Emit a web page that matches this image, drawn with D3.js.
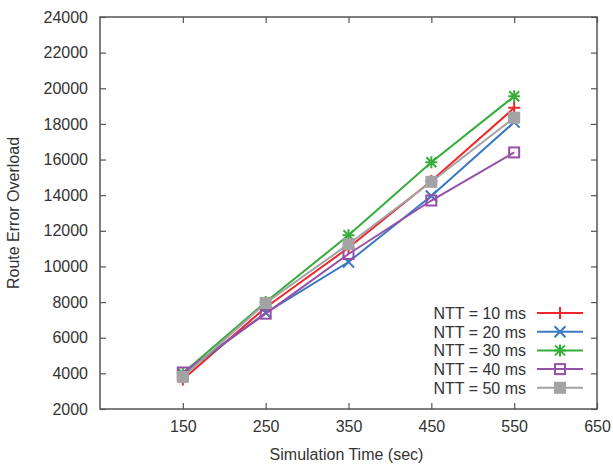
<!DOCTYPE html>
<html><head><meta charset="utf-8">
<script src="https://cdn.jsdelivr.net/npm/d3@7"></script>
<style>body{margin:0;background:#fff;} text{font-family:"Liberation Sans",Arial,sans-serif;}</style>
</head><body>
<svg id="c" width="613" height="467"></svg>
<script>
const times = [150, 250, 350, 450, 550];
const ntt10 = [3650, 7700, 11050, 14800, 18900];
const ntt20 = [3950, 7400, 10250, 13950, 18100];
const ntt30 = [4000, 8000, 11750, 15850, 19550];
const ntt40 = [4050, 7350, 10700, 13700, 16400];
const ntt50 = [3800, 7950, 11250, 14750, 18350];
const seriesNames = ["NTT = 10 ms", "NTT = 20 ms", "NTT = 30 ms", "NTT = 40 ms", "NTT = 50 ms"];
const xTicks = [150, 250, 350, 450, 550, 650];
const yTicks = [2000, 4000, 6000, 8000, 10000, 12000, 14000, 16000, 18000, 20000, 22000, 24000];

const series = [
  {name: seriesNames[0], values: ntt10, color: "#f0262a", marker: "plus"},
  {name: seriesNames[1], values: ntt20, color: "#3b78c3", marker: "cross"},
  {name: seriesNames[2], values: ntt30, color: "#36ad3a", marker: "star"},
  {name: seriesNames[3], values: ntt40, color: "#9550a8", marker: "osquare"},
  {name: seriesNames[4], values: ntt50, color: "#a3a3a5", marker: "fsquare"}
];

const FS = "16px";
const svg = d3.select("#c");
const L = 100, R = 597, T = 17, B = 409;
const x = d3.scaleLinear().domain([50, 650]).range([L, R]);
const y = d3.scaleLinear().domain([2000, 24000]).range([B, T]);
const axisColor = "#555";
const tickLen = 6;

// axes with inward ticks
const gB = svg.append("g").attr("transform", `translate(0,${B})`)
  .call(d3.axisBottom(x).tickValues(xTicks).tickSize(-tickLen).tickPadding(12).tickFormat(d3.format("d")));
const gT = svg.append("g").attr("transform", `translate(0,${T})`)
  .call(d3.axisTop(x).tickValues(xTicks).tickSize(-tickLen).tickFormat(""));
const gL = svg.append("g").attr("transform", `translate(${L},0)`)
  .call(d3.axisLeft(y).tickValues(yTicks).tickSize(-tickLen).tickPadding(12).tickFormat(d3.format("d")));
const gR = svg.append("g").attr("transform", `translate(${R},0)`)
  .call(d3.axisRight(y).tickValues(yTicks).tickSize(-tickLen).tickFormat(""));
[gB, gT, gL, gR].forEach(g => {
  g.select(".domain").remove();
  g.selectAll(".tick line").attr("stroke", axisColor).attr("stroke-width", 1.2);
  g.selectAll(".tick text").attr("fill", "#333").style("font-size", FS).attr("font-family", "Liberation Sans, Arial, sans-serif");
});
svg.append("rect").attr("x", L).attr("y", T).attr("width", R - L).attr("height", B - T)
  .attr("fill", "none").attr("stroke", axisColor).attr("stroke-width", 1.5);

// axis titles
svg.append("text").attr("x", (L + R) / 2 - 2).attr("y", 460).attr("text-anchor", "middle")
  .attr("fill", "#333").style("font-size", FS).text("Simulation Time (sec)");
svg.append("text").attr("transform", `translate(19,${(T + B) / 2}) rotate(-90)`).attr("text-anchor", "middle")
  .attr("fill", "#333").style("font-size", FS).text("Route Error Overload");

function drawMarker(g, type, cx, cy, color) {
  const s = 6;
  if (type === "plus" || type === "star") {
    g.append("path").attr("d", `M${cx - s},${cy}H${cx + s}M${cx},${cy - s}V${cy + s}`)
      .attr("stroke", color).attr("stroke-width", 2).attr("fill", "none");
  }
  if (type === "cross" || type === "star") {
    const d = type === "star" ? 5 : 5.5;
    g.append("path").attr("d", `M${cx - d},${cy - d}L${cx + d},${cy + d}M${cx - d},${cy + d}L${cx + d},${cy - d}`)
      .attr("stroke", color).attr("stroke-width", 2).attr("fill", "none");
  }
  if (type === "osquare") {
    g.append("rect").attr("x", cx - 5).attr("y", cy - 5).attr("width", 10).attr("height", 10)
      .attr("stroke", color).attr("stroke-width", 2).attr("fill", "none");
  }
  if (type === "fsquare") {
    g.append("rect").attr("x", cx - 6).attr("y", cy - 6).attr("width", 12).attr("height", 12)
      .attr("fill", color);
  }
}

const line = d3.line().x((d, i) => x(times[i])).y(d => y(d));
series.forEach(s => {
  const g = svg.append("g");
  g.append("path").attr("d", line(s.values)).attr("fill", "none")
    .attr("stroke", s.color).attr("stroke-width", 2);
  s.values.forEach((v, i) => drawMarker(g, s.marker, x(times[i]), y(v), s.color));
});

// legend
const legY0 = 313, legDy = 18.7;
series.forEach((s, i) => {
  const ly = legY0 + i * legDy;
  svg.append("text").attr("x", 526).attr("y", ly + 6).attr("text-anchor", "end")
    .attr("fill", "#333").style("font-size", FS).text(s.name);
  const g = svg.append("g");
  g.append("line").attr("x1", 537).attr("x2", 583).attr("y1", ly).attr("y2", ly)
    .attr("stroke", s.color).attr("stroke-width", 2);
  drawMarker(g, s.marker, 560, ly, s.color);
});
</script>
</body></html>
